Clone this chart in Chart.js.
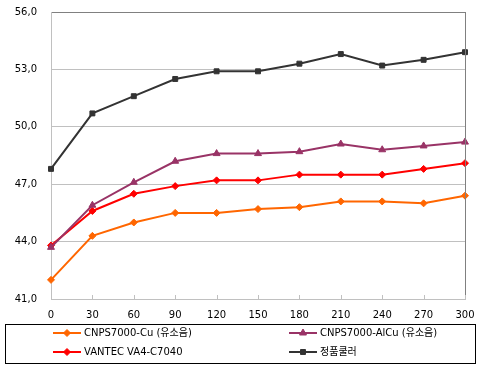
<!DOCTYPE html>
<html>
<head>
<meta charset="utf-8">
<script src="https://cdn.jsdelivr.net/npm/chart.js@4/dist/chart.umd.min.js"></script>
<style>
  body { margin: 0; background: #fff; }
  canvas { display: block; }
</style>
</head>
<body>
<canvas id="chart" width="479" height="366"></canvas>
<script>
const seconds = ['0', '30', '60', '90', '120', '150', '180', '210', '240', '270', '300'];
const cuValues = [42.0, 44.3, 45.0, 45.5, 45.5, 45.7, 45.8, 46.1, 46.1, 46.0, 46.4];
const alcuValues = [43.7, 45.9, 47.1, 48.2, 48.6, 48.6, 48.7, 49.1, 48.8, 49.0, 49.2];
const vantecValues = [43.8, 45.6, 46.5, 46.9, 47.2, 47.2, 47.5, 47.5, 47.5, 47.8, 48.1];
const stockValues = [47.8, 50.7, 51.6, 52.5, 52.9, 52.9, 53.3, 53.8, 53.2, 53.5, 53.9];
const yTicks = [41, 44, 47, 50, 53, 56];

const fontFamily = '"DejaVu Sans", "Noto Sans CJK KR", sans-serif';

function series(label, data, color, style, radius) {
    return {
        label: label,
        data: data,
        borderColor: color,
        backgroundColor: color,
        borderWidth: 2,
        pointStyle: style,
        pointRadius: radius,
        pointHoverRadius: radius,
        pointBorderWidth: 1,
        tension: 0
    };
}

// legend box under the plot, two columns like the original
const boxLegend = {
    id: 'boxLegend',
    afterDraw(chart) {
        const ctx = chart.ctx;
        ctx.save();
        ctx.strokeStyle = '#000';
        ctx.lineWidth = 1;
        ctx.strokeRect(5.5, 324.5, 470, 39);

        const cols = [53, 289];
        const rows = [333, 352];
        chart.data.datasets.forEach((ds, i) => {
            const x = cols[i % 2];
            const y = rows[Math.floor(i / 2)];
            ctx.strokeStyle = ds.borderColor;
            ctx.fillStyle = ds.backgroundColor;
            ctx.lineWidth = 2;
            ctx.beginPath();
            ctx.moveTo(x, y);
            ctx.lineTo(x + 28, y);
            ctx.stroke();
            ctx.lineWidth = 1;
            Chart.helpers.drawPoint(ctx, {
                pointStyle: ds.pointStyle,
                radius: ds.pointRadius,
                rotation: 0,
                borderWidth: 1
            }, x + 14, y);
            ctx.fillStyle = '#000';
            ctx.font = '10px ' + fontFamily;
            ctx.textBaseline = 'middle';
            ctx.textAlign = 'left';
            ctx.fillText(ds.label, x + 31, y);
        });
        ctx.restore();
    }
};

// right border and the short inward ticks on the x axis
const frame = {
    id: 'frame',
    afterDatasetsDraw(chart) {
        const ctx = chart.ctx;
        const area = chart.chartArea;
        const xs = chart.scales.x;
        ctx.save();
        ctx.strokeStyle = '#808080';
        ctx.lineWidth = 1;
        ctx.beginPath();
        ctx.moveTo(Math.round(area.right) + 0.5, area.top);
        ctx.lineTo(Math.round(area.right) + 0.5, area.bottom);
        ctx.stroke();
        ctx.strokeStyle = '#c0c0c0';
        xs.ticks.forEach((t, i) => {
            const px = Math.round(xs.getPixelForTick(i)) + 0.5;
            ctx.beginPath();
            ctx.moveTo(px, area.bottom);
            ctx.lineTo(px, area.bottom - 4);
            ctx.stroke();
        });
        ctx.restore();
    }
};

const ctx = document.getElementById('chart').getContext('2d');
new Chart(ctx, {
    type: 'line',
    data: {
        labels: seconds,
        datasets: [
            series('CNPS7000-Cu (유소음)', cuValues, '#ff6600', 'rectRot', 3.5),
            series('CNPS7000-AlCu (유소음)', alcuValues, '#993366', 'triangle', 4),
            series('VANTEC VA4-C7040', vantecValues, '#ff0000', 'rectRot', 3.5),
            series('정품쿨러', stockValues, '#333333', 'rect', 3.5)
        ]
    },
    options: {
        responsive: false,
        animation: false,
        layout: { padding: { top: 12, right: 14, left: 0, bottom: 0 } },
        plugins: {
            legend: { display: false },
            tooltip: { enabled: false }
        },
        scales: {
            x: {
                offset: false,
                grid: { display: false, drawTicks: false },
                border: { display: true, color: '#c0c0c0' },
                ticks: {
                    color: '#000',
                    font: { family: fontFamily, size: 10 },
                    padding: 10,
                    maxRotation: 0,
                    autoSkip: false
                },
                afterFit(scale) {
                    scale.height = 67;
                    scale.paddingLeft = 0;
                    scale.paddingRight = 0;
                }
            },
            y: {
                min: 41,
                max: 56,
                afterBuildTicks(scale) {
                    scale.ticks = yTicks.map(v => ({ value: v }));
                },
                grid: {
                    drawTicks: false,
                    color: c => c.tick && c.tick.value === 56 ? '#808080' : '#c0c0c0'
                },
                border: { display: true, color: '#c0c0c0' },
                ticks: {
                    color: '#000',
                    font: { family: fontFamily, size: 10 },
                    padding: 14,
                    callback: v => v.toFixed(1).replace('.', ',')
                },
                afterFit(scale) {
                    scale.width = 51;
                    scale.paddingTop = 0;
                    scale.paddingBottom = 0;
                }
            }
        }
    },
    plugins: [frame, boxLegend]
});
</script>
</body>
</html>
